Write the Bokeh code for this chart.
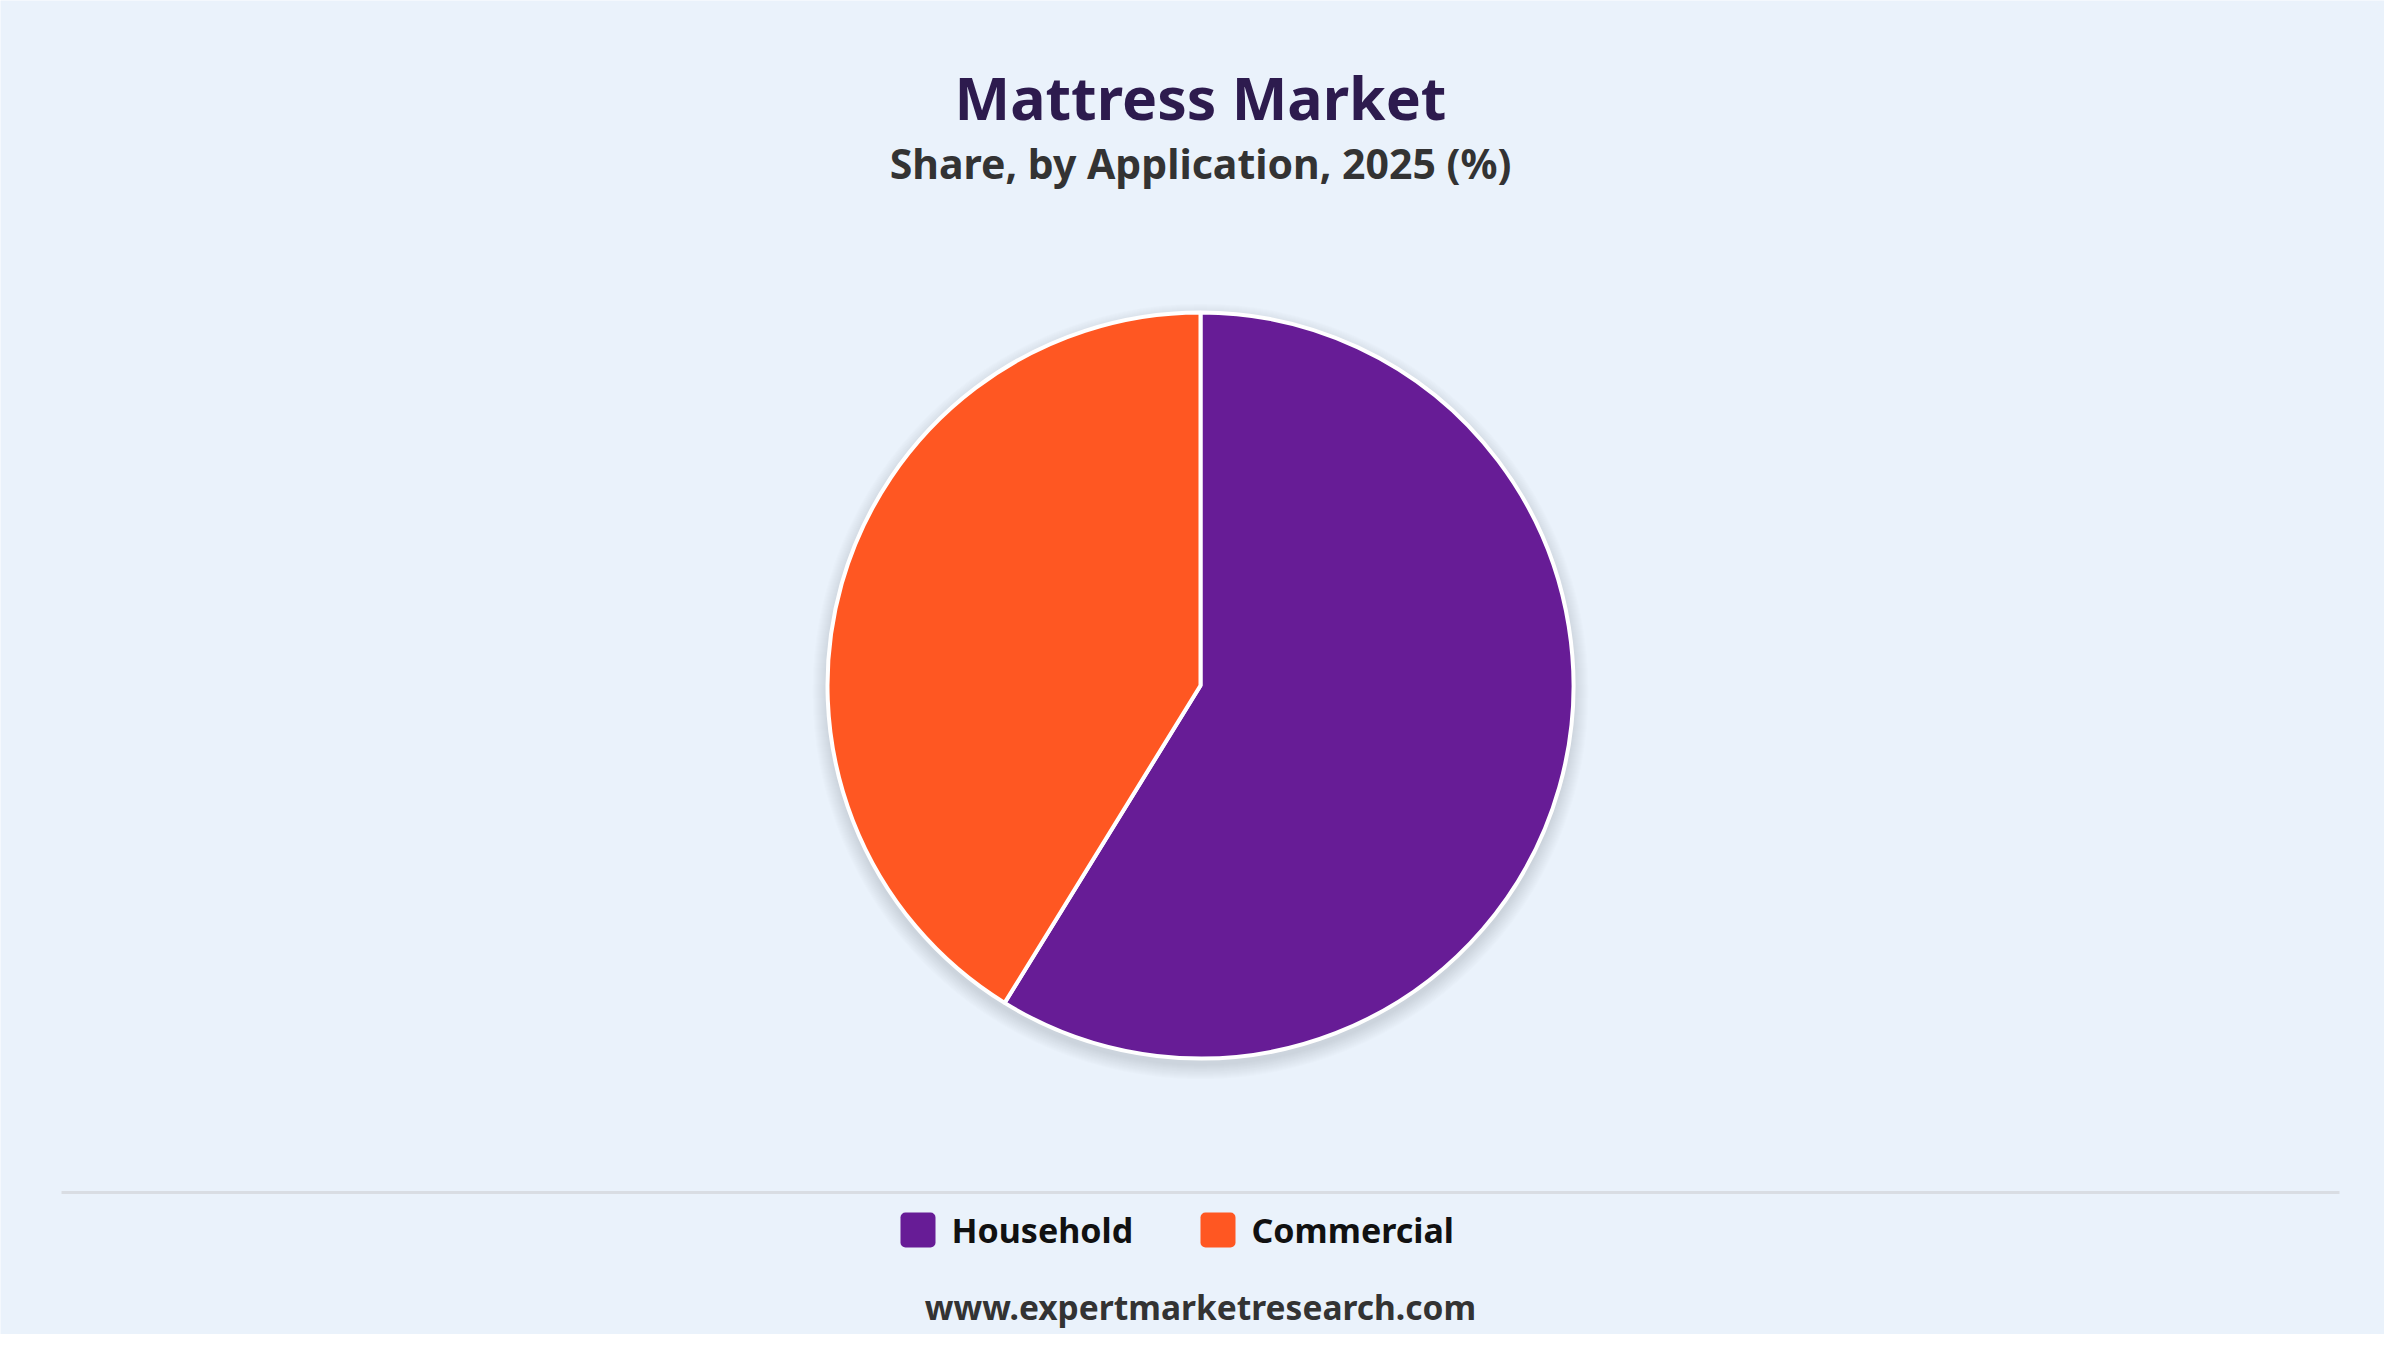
import math
from bokeh.plotting import figure
from bokeh.embed import file_html
from bokeh.resources import INLINE
from bokeh.core.properties import value

# ---- data ----
categories = ["Household", "Commercial"]
shares = [58.8, 41.2]
colors = ["#671C96", "#FF5722"]
title_text = "Mattress Market"
subtitle_text = "Share, by Application, 2025 (%)"
footer_text = "www.expertmarketresearch.com"

W, H = 2384, 1334
BG = "#EAF2FB"
FONT = "Noto Sans"

def Y(ys):
    return H - ys

def X(xs):
    return xs

p = figure(width=W, height=H, x_range=(0, W), y_range=(0, H),
           output_backend="svg", toolbar_location=None,
           min_border=0, background_fill_color=BG, border_fill_color=BG)
p.axis.visible = False
p.grid.visible = False
p.outline_line_color = None

cx, cy, r = X(1200), Y(685), 373

# soft shadow
for k in range(1, 16):
    p.circle(x=[cx], y=[cy - 6], radius=r + k, fill_color="#3a4250",
             fill_alpha=0.013, line_color=None)

# pie wedges (clockwise from top)
total = sum(shares)
starts, ends = [], []
ang = math.pi / 2
for s in shares:
    a2 = ang - 2 * math.pi * s / total
    starts.append(ang)
    ends.append(a2)
    ang = a2
p.wedge(x=[cx] * len(shares), y=[cy] * len(shares), radius=r,
        start_angle=starts, end_angle=ends, direction="clock",
        fill_color=colors, line_color="white", line_width=4)

# titles
p.text(x=[X(1200)], y=[Y(96)], text=[title_text], text_align="center",
       text_baseline="middle", text_font=value(FONT), text_font_style="bold",
       text_font_size="59px", text_color="#2D1B4E")
p.text(x=[X(1200)], y=[Y(162)], text=[subtitle_text], text_align="center",
       text_baseline="middle", text_font=value(FONT), text_font_style="bold",
       text_font_size="41px", text_color="#333333")

# separator
p.line(x=[X(61), X(2339)], y=[Y(1192), Y(1192)], line_color="#D9DDE3", line_width=3)

# legend
leg_x = [900, 1200]
for i, (cat, col) in enumerate(zip(categories, colors)):
    lx = leg_x[i]
    p.quad(left=[X(lx)], right=[X(lx + 35)], top=[Y(1212)], bottom=[Y(1247)],
           fill_color=col, line_color=None, border_radius=5)
    p.text(x=[X(lx + 51)], y=[Y(1229)], text=[cat], text_align="left",
           text_baseline="middle", text_font=value(FONT), text_font_style="bold",
           text_font_size="34px", text_color="#111111")

# footer
p.text(x=[X(1200)], y=[Y(1306)], text=[footer_text], text_align="center",
       text_baseline="middle", text_font=value(FONT), text_font_style="bold",
       text_font_size="33.5px", text_color="#333333")

open("out.html", "w").write(file_html(p, INLINE))
